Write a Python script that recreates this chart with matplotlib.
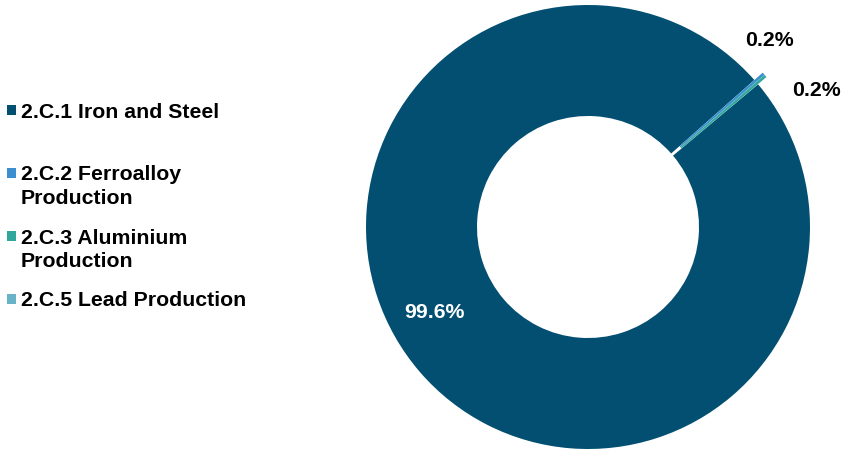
import numpy as np
import matplotlib.pyplot as plt
from matplotlib.patches import Rectangle

plt.rcParams['font.family'] = ['Liberation Sans', 'DejaVu Sans']

categories = ['2.C.1 Iron and Steel', '2.C.2 Ferroalloy\nProduction',
              '2.C.3 Aluminium\nProduction', '2.C.5 Lead Production']
shares = [99.6, 0.2, 0.2, 0.01]
pct_labels = ['99.6%', '0.2%', '0.2%', '']
colors = ['#024f71', '#3b8fd0', '#2fa79a', '#68b3c8']

W, H = 847, 450
fig = plt.figure(figsize=(W / 100, H / 100), dpi=100)

# donut, 444 px across, centred at (588, 227)
ax = fig.add_axes([366 / W, 1 / H, 444 / W, 444 / H])
wedges, _ = ax.pie(shares, colors=colors, startangle=40, counterclock=False,
                   radius=1, explode=[0, 0.05, 0.05, 0.05],
                   wedgeprops=dict(width=0.5, linewidth=0))
for w in wedges:
    w.set_clip_on(False)
ax.set_xlim(-1, 1)
ax.set_ylim(-1, 1)
ax.set_aspect('equal')
ax.axis('off')

fs = 15.3

# data labels
ax.text(0.79 * np.cos(np.radians(209)), 0.79 * np.sin(np.radians(209)),
        pct_labels[0], color='white', fontsize=fs, fontweight='bold',
        ha='center', va='center')
mid = np.radians(0.5 * (wedges[1].theta1 + wedges[2].theta2))
for lab, dang, r in [(pct_labels[1], 5, 1.17), (pct_labels[2], -10, 1.2)]:
    a = mid + np.radians(dang)
    ax.text(r * np.cos(a), r * np.sin(a), lab, color='black', fontsize=fs,
            fontweight='bold', ha='center', va='center', clip_on=False)

# legend, drawn by hand so entries keep an even spacing
y0, step = 110, 63
for i, (name, col) in enumerate(zip(categories, colors)):
    yc = y0 + i * step
    fig.add_artist(Rectangle((7 / W, 1 - (yc + 5) / H), 9 / W, 10 / H,
                             transform=fig.transFigure, color=col, lw=0))
    fig.text(21 / W, 1 - (yc - 7.5) / H, name, fontsize=fs, fontweight='bold',
             ha='left', va='top', linespacing=1.3)

fig.savefig('out.png', dpi=100)
